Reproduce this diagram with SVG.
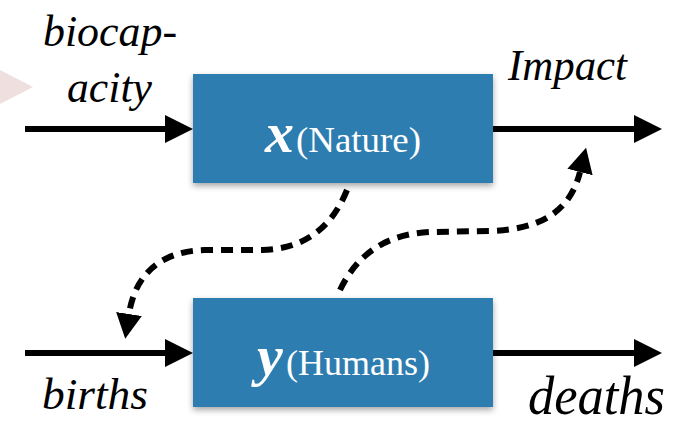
<svg xmlns="http://www.w3.org/2000/svg" width="677" height="427" viewBox="0 0 677 427">
<style>
.box{fill:#2f7db0;filter:url(#sh)}
text{font-family:'Liberation Serif','Times New Roman',serif}
.lbl{font-style:italic;fill:#000}
.var{font-style:italic;font-weight:bold;fill:#fff;font-size:58px}
.nm{fill:#fff;font-size:35px}
.solid{fill:none;stroke:#000;stroke-width:6;marker-end:url(#ah)}
.dash{fill:none;stroke:#000;stroke-width:6;stroke-dasharray:12 8;marker-end:url(#dh)}
</style>
<defs>
<filter id="sh" x="-10%" y="-20%" width="120%" height="150%">
<feDropShadow dx="0" dy="3" stdDeviation="3" flood-color="#000" flood-opacity="0.35"/>
</filter>
<marker id="ah" markerUnits="userSpaceOnUse" markerWidth="30" markerHeight="30" refX="0" refY="14" orient="auto">
<path d="M0,0 L28,14 L0,28 z" fill="#000"/>
</marker>
<marker id="dh" markerUnits="userSpaceOnUse" markerWidth="30" markerHeight="30" refX="0" refY="13" orient="auto">
<path d="M0,0 L25,13 L0,26 z" fill="#000"/>
</marker>
</defs>
<polygon points="0,70 33,87 0,104" fill="#efdfdf"/>
<g id="connectors">
<path class="solid" d="M25,129 L165,129"/>
<path class="solid" d="M493,129 L634,129"/>
<path class="solid" d="M25,353 L165,353"/>
<path class="solid" d="M493,353 L634,353"/>
<path class="dash" d="M347,190 C330,232 300,249 262,250 L205,250 C160,251 135,275 129,314"/>
<path class="dash" d="M340,290 C357,255 385,234 430,232 L492,231 C540,229 570,212 580,172"/>
</g>
<g id="nature">
<rect class="box" x="193" y="74" width="300" height="109"/>
<text y="152"><tspan class="var" x="265">x</tspan><tspan class="nm" x="296" textLength="125" lengthAdjust="spacingAndGlyphs">(Nature)</tspan></text>
</g>
<g id="humans">
<rect class="box" x="193" y="298" width="300" height="109"/>
<text y="375"><tspan class="var" x="257">y</tspan><tspan class="nm" x="286" textLength="144" lengthAdjust="spacingAndGlyphs">(Humans)</tspan></text>
</g>
<g id="labels">
<text class="lbl" x="43" y="46" font-size="44" textLength="134" lengthAdjust="spacingAndGlyphs">biocap-</text>
<text class="lbl" x="67" y="102" font-size="44" textLength="85" lengthAdjust="spacingAndGlyphs">acity</text>
<text class="lbl" x="508" y="80" font-size="44" textLength="119" lengthAdjust="spacingAndGlyphs">Impact</text>
<text class="lbl" x="42" y="409" font-size="44" textLength="106" lengthAdjust="spacingAndGlyphs">births</text>
<text class="lbl" x="528" y="414" font-size="55" textLength="137" lengthAdjust="spacingAndGlyphs">deaths</text>
</g>
</svg>
